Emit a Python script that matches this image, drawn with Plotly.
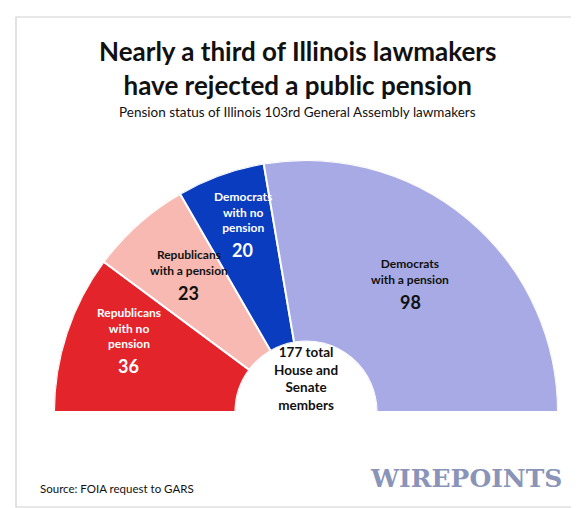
import math
import plotly.graph_objects as go

labels = ["Republicans<br>with no<br>pension", "Republicans<br>with a pension", "Democrats<br>with no<br>pension", "Democrats<br>with a pension"]
values = [36, 23, 20, 98]
colors = ["#e3242b", "#f7b9b1", "#0a3cc0", "#a7aae4"]
label_colors = ["white", "#111111", "white", "#111111"]
label_r = [0.74, 0.70, 0.74, 0.64]

total = sum(values)
W, H = 579, 508
cx, cy, R = 298, 404, 252

fig = go.Figure()
cum = 0
thetas, widths = [], []
for v in values:
    thetas.append((cum + v / 2) * 180 / total)
    widths.append(v * 180 / total)
    cum += v
fig.add_trace(go.Barpolar(r=[1] * len(values), theta=thetas, width=widths,
                          marker=dict(color=colors, line=dict(color="white", width=2)),
                          hoverinfo="skip"))

fig.update_layout(
    width=W, height=H, margin=dict(l=0, r=0, t=0, b=0),
    paper_bgcolor="white", showlegend=False,
    polar=dict(
        domain=dict(x=[(cx - R) / W, (cx + R) / W], y=[1 - cy / H, 1 - (cy - R) / H]),
        sector=[0, 180], hole=0.28, bgcolor="rgba(0,0,0,0)",
        radialaxis=dict(visible=False, range=[0, 1]),
        angularaxis=dict(visible=False, rotation=180, direction="clockwise"),
    ),
)

F = "Lato, Open Sans, sans-serif"
ann = []
for lab, v, th, col, rf in zip(labels, values, thetas, label_colors, label_r):
    a = math.radians(th)
    x = cx - rf * R * math.cos(a)
    y = cy - rf * R * math.sin(a)
    ann.append(dict(x=x / W, y=1 - y / H, yanchor="bottom", text=f"<b>{lab}</b>",
                    font=dict(family=F, size=12, color=col)))
    ann.append(dict(x=x / W, y=1 - y / H, yanchor="top", text=f"<b>{v}</b>",
                    font=dict(family=F, size=18, color=col)))
ann += [
    dict(x=0.5, y=1 - 60 / H,
         text="<b>Nearly a third of Illinois lawmakers<br>have rejected a public pension</b>",
         font=dict(family=F, size=26, color="#111111")),
    dict(x=0.5, y=1 - 104 / H,
         text="Pension status of Illinois 103rd General Assembly lawmakers",
         font=dict(family=F, size=13.5, color="#111111")),
    dict(x=cx / W, y=1 - 370 / H,
         text=f"<b>{total} total<br>House and<br>Senate<br>members</b>",
         font=dict(family=F, size=13.5, color="#111111")),
    dict(x=30 / W, y=1 - 480 / H, xanchor="left",
         text="Source: FOIA request to GARS",
         font=dict(family=F, size=11.5, color="#111111")),
    dict(x=556 / W, y=1 - 470 / H, xanchor="right",
         text="<b>WIREPOINTS</b>",
         font=dict(family="DejaVu Serif, serif", size=25, color="#8a94b8")),
]
for a in ann:
    a.update(xref="paper", yref="paper", showarrow=False, align="center")
    a.setdefault("xanchor", "center")
    a.setdefault("yanchor", "middle")
fig.update_layout(annotations=ann)

fig.add_shape(type="rect", xref="paper", yref="paper", x0=8 / W, x1=568 / W, y0=1 - 499 / H, y1=1 - 9 / H,
              line=dict(color="#cfcfcf", width=1.2))
fig.write_html("out.html")
